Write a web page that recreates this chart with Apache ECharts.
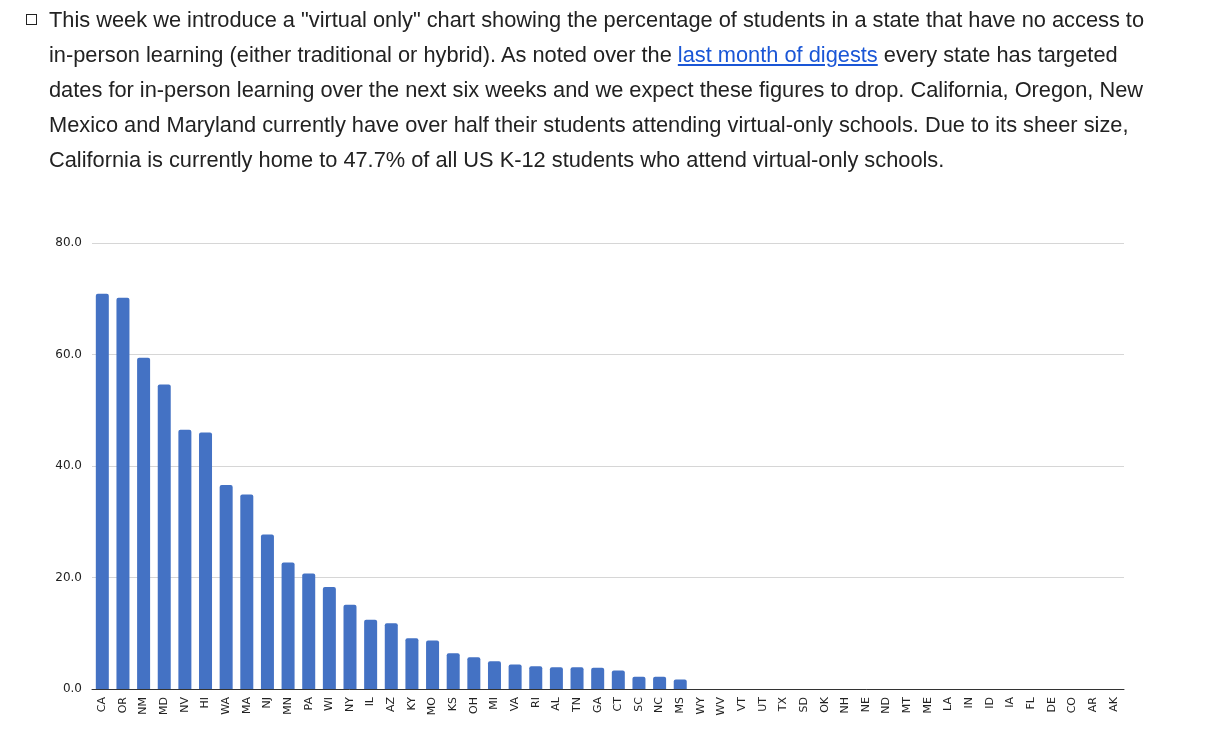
<!DOCTYPE html>
<html>
<head>
<meta charset="utf-8">
<script src="https://cdn.jsdelivr.net/npm/echarts@6/dist/echarts.min.js"></script>
<style>
	html, body { margin: 0; padding: 0; background: #fff; }
	#chart { position: absolute; left: 0; top: 0; width: 1223px; height: 744px; }
	.box {
		position: absolute; left: 26px; top: 14px; z-index: 2;
		width: 9px; height: 9px; border: 1.5px solid #222;
	}
	.note {
		position: absolute; left: 49px; top: 2px; z-index: 2;
		font-family: "Liberation Sans", Arial, sans-serif;
		font-size: 21.8px; line-height: 35px; color: #222;
		white-space: nowrap;
	}
	.note a { color: #1a56d6; text-decoration: underline; }
</style>
</head>
<body>
<div class="box"></div>
<div class="note">
	This week we introduce a "virtual only" chart showing the percentage of students in a state that have no access to<br>
	in-person learning (either traditional or hybrid). As noted over the <a href="#">last month of digests</a> every state has targeted<br>
	dates for in-person learning over the next six weeks and we expect these figures to drop. California, Oregon, New<br>
	Mexico and Maryland currently have over half their students attending virtual-only schools. Due to its sheer size,<br>
	California is currently home to 47.7% of all US K-12 students who attend virtual-only schools.
</div>
<div id="chart"></div>
<script>
var states = ['CA','OR','NM','MD','NV','HI','WA','MA','NJ','MN','PA','WI','NY','IL','AZ',
	'KY','MO','KS','OH','MI','VA','RI','AL','TN','GA','CT','SC','NC','MS',
	'WY','WV','VT','UT','TX','SD','OK','NH','NE','ND','MT','ME','LA','IN','ID','IA','FL','DE','CO','AR','AK'];
var virtualOnly = [70.9,70.2,59.4,54.6,46.5,46.0,36.6,34.9,27.7,22.7,20.7,18.3,15.1,12.4,11.8,
	9.1,8.7,6.4,5.7,5.0,4.4,4.1,3.9,3.9,3.8,3.3,2.2,2.2,1.7,
	0,0,0,0,0,0,0,0,0,0,0,0,0,0,0,0,0,0,0,0,0];

var myChart = echarts.init(document.getElementById('chart'));
var option = {
	animation: false,
	grid: {
		left: 92,
		top: 243,
		right: 99,
		bottom: 55,
		containLabel: false
	},
	xAxis: {
		type: 'category',
		data: states,
		axisTick: { show: false },
		axisLine: {
			lineStyle: { color: '#333', width: 1 }
		},
		axisLabel: {
			interval: 0,
			rotate: 90,
			margin: 8,
			fontSize: 11,
			fontFamily: 'DejaVu Sans',
			color: '#222'
		}
	},
	yAxis: {
		type: 'value',
		min: 0,
		max: 80,
		interval: 20,
		axisLine: { show: false },
		axisTick: { show: false },
		axisLabel: {
			margin: 10,
			fontSize: 12,
			fontFamily: 'DejaVu Sans',
			color: '#222',
			formatter: function (v) { return v.toFixed(1); }
		},
		splitLine: {
			lineStyle: { color: '#d6d6d6', width: 1 }
		}
	},
	series: [
		{
			type: 'bar',
			data: virtualOnly,
			barWidth: 13,
			itemStyle: {
				color: '#4472c4',
				borderRadius: [2, 2, 0, 0]
			}
		}
	]
};
myChart.setOption(option);
</script>
</body>
</html>
